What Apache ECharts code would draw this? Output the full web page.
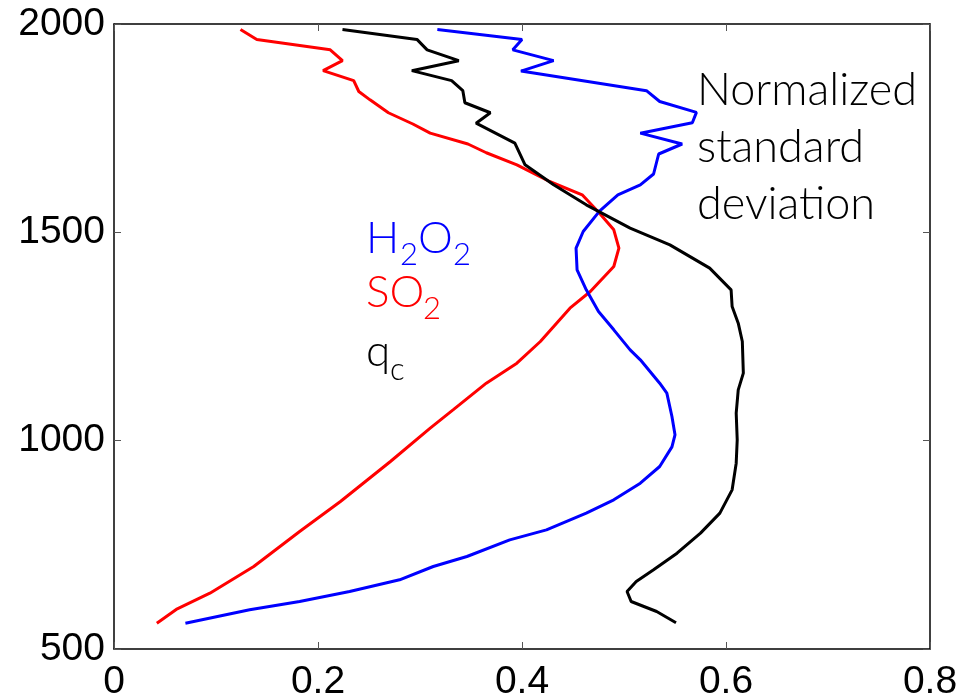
<!DOCTYPE html>
<html>
<head>
<meta charset="utf-8">
<script src="https://cdn.jsdelivr.net/npm/echarts@6/dist/echarts.min.js"></script>
<style>html,body{margin:0;padding:0;background:#fff}#c{width:976px;height:697px}</style>
</head>
<body>
<div id="c"></div>
<script>
// Data (normalized standard deviation vs height)
const xTicks = [0, 0.2, 0.4, 0.6, 0.8];
const yTicks = [500, 1000, 1500, 2000];

const h2o2Sd  = [0.317,0.400,0.391,0.431,0.399,0.522,0.535,0.571,0.567,0.516,0.557,0.534,0.529,0.516,0.494,0.476,0.460,0.453,0.454,0.463,0.475,0.490,0.506,0.516,0.535,0.542,0.547,0.550,0.547,0.535,0.516,0.490,0.463,0.424,0.388,0.346,0.313,0.280,0.231,0.182,0.133,0.070];
const h2o2Alt = [1987,1963,1938,1912,1887,1840,1814,1788,1763,1738,1712,1688,1640,1614,1590,1551,1502,1462,1410,1362,1310,1266,1218,1194,1138,1114,1058,1014,985,938,898,858,826,786,762,722,698,666,638,614,594,562];

const so2Sd  = [0.124,0.140,0.212,0.224,0.205,0.235,0.240,0.251,0.269,0.293,0.310,0.347,0.365,0.395,0.427,0.459,0.476,0.490,0.495,0.490,0.467,0.447,0.418,0.395,0.365,0.333,0.310,0.271,0.222,0.182,0.137,0.094,0.061,0.042];
const so2Alt = [1987,1963,1938,1912,1888,1864,1838,1818,1787,1760,1738,1712,1691,1662,1622,1590,1546,1506,1462,1418,1358,1318,1238,1186,1138,1075,1030,950,854,782,698,634,595,562];

const qcSd  = [0.224,0.297,0.307,0.338,0.292,0.331,0.342,0.344,0.369,0.355,0.393,0.403,0.431,0.463,0.506,0.545,0.584,0.605,0.606,0.612,0.616,0.617,0.612,0.610,0.611,0.610,0.606,0.594,0.575,0.552,0.529,0.512,0.503,0.507,0.532,0.551];
const qcAlt = [1987,1963,1938,1912,1888,1864,1840,1811,1787,1762,1714,1662,1614,1566,1510,1470,1414,1362,1322,1282,1238,1162,1122,1066,1002,946,882,826,778,730,690,662,638,614,590,563];

function zip(a, b) { return a.map((v, i) => [v, b[i]]); }

const chart = echarts.init(document.getElementById('c'), null, {renderer: 'canvas'});
const labelFont = {fontFamily: 'Liberation Sans, Arial, sans-serif', fontSize: 39, color: '#000'};
const annFont = 'Lato, "Open Sans", sans-serif';

const axisCommon = {
  axisLine: {show: true, onZero: false, lineStyle: {color: '#000', width: 1.5}},
  axisTick: {show: true, inside: true, length: 7, lineStyle: {color: '#555', width: 1}},
  splitLine: {show: false}
};

const option = {
  animation: false,
  backgroundColor: '#fff',
  grid: {left: 114, right: 46, top: 24, bottom: 48, containLabel: false, outerBoundsMode: 'none'},
  xAxis: [
    Object.assign({type: 'value', min: xTicks[0], max: xTicks[xTicks.length-1], interval: 0.2, position: 'bottom',
      axisLabel: Object.assign({margin: 14, formatter: v => (v === 0 ? '0' : String(+v.toFixed(1)))}, labelFont)}, axisCommon),
    Object.assign({type: 'value', min: xTicks[0], max: xTicks[xTicks.length-1], interval: 0.2, position: 'top',
      axisLabel: {show: false}}, axisCommon)
  ],
  yAxis: [
    Object.assign({type: 'value', min: yTicks[0], max: yTicks[yTicks.length-1], interval: 500, position: 'left',
      axisLabel: Object.assign({margin: 9, formatter: v => String(v)}, labelFont)}, axisCommon),
    Object.assign({type: 'value', min: yTicks[0], max: yTicks[yTicks.length-1], interval: 500, position: 'right',
      axisLabel: {show: false}}, axisCommon)
  ],
  series: [
    {name: 'H2O2', type: 'line', data: zip(h2o2Sd, h2o2Alt), showSymbol: false, lineStyle: {color: '#0000ff', width: 3}, z: 3},
    {name: 'SO2', type: 'line', data: zip(so2Sd, so2Alt), showSymbol: false, lineStyle: {color: '#ff0000', width: 3}, z: 2},
    {name: 'qc', type: 'line', data: zip(qcSd, qcAlt), showSymbol: false, lineStyle: {color: '#000000', width: 3}, z: 4}
  ],
  graphic: [
    {type: 'text', left: 697, top: 62, style: {text: 'Normalized\nstandard\ndeviation', font: '300 45px ' + annFont, lineHeight: 57, fill: '#000'}},
    {type: 'text', x: 366, y: 238.6, style: {text: 'H', font: '300 44px ' + annFont, fill: '#0000ff', verticalAlign: 'middle'}},
    {type: 'text', x: 400, y: 255, style: {text: '2', font: '300 31px ' + annFont, fill: '#0000ff', verticalAlign: 'middle'}},
    {type: 'text', x: 418, y: 238.6, style: {text: 'O', font: '300 44px ' + annFont, fill: '#0000ff', verticalAlign: 'middle'}},
    {type: 'text', x: 453, y: 255, style: {text: '2', font: '300 31px ' + annFont, fill: '#0000ff', verticalAlign: 'middle'}},
    {type: 'text', x: 366, y: 293, style: {text: 'SO', font: '300 44px ' + annFont, fill: '#ff0000', verticalAlign: 'middle'}},
    {type: 'text', x: 423, y: 309, style: {text: '2', font: '300 31px ' + annFont, fill: '#ff0000', verticalAlign: 'middle'}},
    {type: 'text', x: 366, y: 352, style: {text: 'q', font: '300 44px ' + annFont, fill: '#000', verticalAlign: 'middle'}},
    {type: 'text', x: 390, y: 370, style: {text: 'c', font: '300 31px ' + annFont, fill: '#000', verticalAlign: 'middle'}}
  ]
};
chart.setOption(option);
</script>
</body>
</html>
